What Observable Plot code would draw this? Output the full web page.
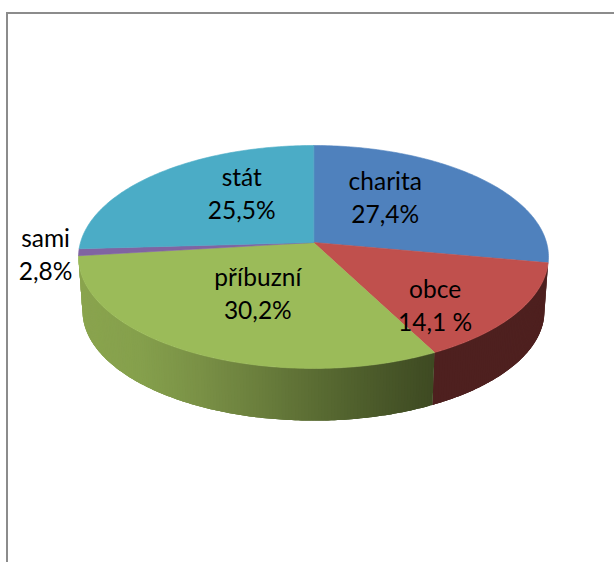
<!DOCTYPE html>
<html>
<head>
<meta charset="utf-8">
<script src="https://cdn.jsdelivr.net/npm/d3@7"></script>
<script src="https://cdn.jsdelivr.net/npm/@observablehq/plot@0.6"></script>
<style>
html,body{margin:0;padding:0;background:#fff;overflow:hidden}
#wrap{position:relative;width:614px;height:562px}
#wrap svg{position:absolute;left:0;top:0}
#frame{position:absolute;left:6px;top:12px;right:0;bottom:0;border-top:2px solid #8c8c8c;border-left:2px solid #8c8c8c}
</style>
</head>
<body>
<div id="wrap"><div id="frame"></div></div>
<script>
// Slice order clockwise from 12 o'clock
const names = ["charita", "obce", "příbuzní", "sami", "stát"];
// Shares as drawn in the picture (percent of the full circle)
const shares = [27.9, 14.5, 30.7, 1.0, 25.9];
// Printed labels
const labels = ["charita\n27,4%", "obce\n14,1 %", "příbuzní\n30,2%", "sami\n2,8%", "stát\n25,5%"];
const colors = ["#4f81bd", "#c0504d", "#9bbb59", "#8064a2", "#4bacc6"];
// Side wall shading, left to right on screen
const sideStops = {
  "obce": ["#4e201f", "#4e201f"],
  "příbuzní": ["#8aa44e", "#85a04c", "#7a9146", "#6b7f3d", "#5a6c33", "#4b5a2a", "#3e4a22"]
};
// Label centres in the chart's unit coordinates
const labelX = [0.308, 0.522, -0.239, -1.15, -0.308];
const labelY = [-0.425, 0.558, 0.45, 0.098, -0.46];

// Perspective model of the tilted disc
const tilt = -0.13, drop = 0.493, shrinkX = 0.983, shrinkY = 0.985;
function project(theta, level) {
  const u = Math.sin(theta), v = -Math.cos(theta), w = 1 / (1 + tilt * v);
  return level === 0
    ? {x: u * w, y: v * w}
    : {x: shrinkX * u * w, y: drop + shrinkY * v * w};
}

const arcs = d3.pie().sort(null).value(d => d)(shares);

// Top face polygons
const topFace = [];
arcs.forEach((a, i) => {
  const n = Math.max(4, Math.ceil((a.endAngle - a.startAngle) * 60));
  topFace.push({id: i, x: 0, y: 0, fill: colors[i]});
  for (let k = 0; k <= n; k++) {
    const t = a.startAngle + (a.endAngle - a.startAngle) * k / n;
    topFace.push({id: i, ...project(t, 0), fill: colors[i]});
  }
});

// Side wall strips; each overlaps the next one so no seam shows
const wall = [];
arcs.forEach((a, i) => {
  const stops = sideStops[names[i]];
  if (!stops) return;
  const n = Math.ceil((a.endAngle - a.startAngle) * 80);
  const step = (a.endAngle - a.startAngle) / n;
  const xs = [project(a.startAngle, 0).x, project(a.endAngle, 0).x];
  const shade = d3.scaleLinear()
    .domain(d3.range(stops.length).map(j => d3.min(xs) + (d3.max(xs) - d3.min(xs)) * j / (stops.length - 1)))
    .range(stops).interpolate(d3.interpolateRgb).clamp(true);
  for (let k = 0; k < n; k++) {
    const t0 = a.startAngle + step * k;
    const t1 = a.startAngle + step * Math.min(n, k + 3);
    const id = `${i}-${k}`;
    const fill = shade(project(t0 + step / 2, 0).x);
    const path = [];
    for (let s = t0; s < t1 - step / 2; s += step) path.push(project(s, 0));
    path.push(project(t1, 0));
    for (let s = t1; s > t0 + step / 2; s -= step) path.push(project(s, 1));
    path.push(project(t0, 1));
    path.forEach(p => wall.push({id, ...p, fill}));
  }
});

const labelRows = names.map((n, i) => ({text: labels[i], x: labelX[i], y: labelY[i]}));

const chart = Plot.plot({
  width: 614,
  height: 562,
  margin: 0,
  style: {background: "transparent", overflow: "visible"},
  x: {domain: [-1.3433, 1.2918], range: [0, 614], axis: null},
  y: {domain: [-2.208, 2.92], range: [0, 562], axis: null},
  color: {type: "identity"},
  marks: [
    Plot.line(wall, {x: "x", y: "y", z: "id", fill: "fill", stroke: "none", curve: "linear-closed"}),
    Plot.line(topFace, {x: "x", y: "y", z: "id", fill: "fill", stroke: "fill", strokeWidth: 0.6, curve: "linear-closed"}),
    Plot.text(labelRows, {
      x: "x", y: "y", text: "text",
      fontFamily: "Lato, 'Open Sans', sans-serif",
      fontSize: 24.5, lineHeight: 1.35, fill: "#000", textAnchor: "middle"
    })
  ]
});
document.getElementById("wrap").appendChild(chart);
</script>
</body>
</html>
